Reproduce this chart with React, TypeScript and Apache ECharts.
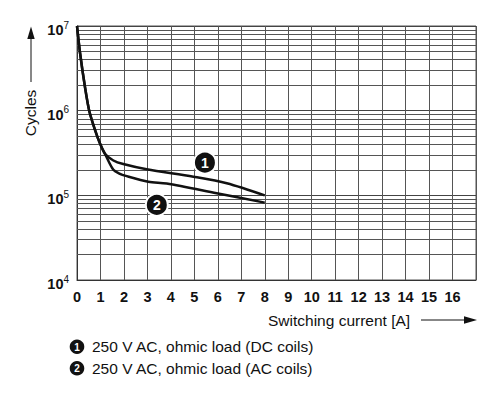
import React, { useEffect, useRef } from "react";
import * as echarts from "echarts";

// ---- data ----
const xTickValues = [0, 1, 2, 3, 4, 5, 6, 7, 8, 9, 10, 11, 12, 13, 14, 15, 16];
const yDecades = [1e4, 1e5, 1e6, 1e7];
const minorMultipliers = [2, 3, 4, 5, 6, 7, 8, 9];

const curveDC: [number, number][] = [
  [0, 1e7], [0.13, 4.8e6], [0.34, 1.9e6], [0.52, 1.0e6], [0.77, 5.9e5],
  [0.98, 4.1e5], [1.19, 3.1e5], [1.55, 2.58e5], [1.97, 2.34e5], [2.97, 2.03e5],
  [4.96, 1.66e5], [6.38, 1.39e5], [8, 1.0e5],
];
const curveAC: [number, number][] = [
  [0, 1e7], [0.13, 4.8e6], [0.34, 1.9e6], [0.52, 1.0e6], [0.77, 5.9e5],
  [0.98, 4.1e5], [1.19, 3.1e5], [1.55, 2.0e5], [1.83, 1.79e5], [2.0, 1.72e5],
  [3.04, 1.45e5], [3.82, 1.38e5], [5.95, 1.06e5], [8, 8.2e4],
];
const badgeNames = ["1", "2"];
const badgePositions: [number, number][] = [[5.45, 2.43e5], [3.4, 7.7e4]];
const legendTexts = [
  "250 V AC, ohmic load (DC coils)",
  "250 V AC, ohmic load (AC coils)",
];
const xAxisTitle = "Switching current [A]";
const yAxisTitle = "Cycles";

const FONT = "'Liberation Sans', Arial, sans-serif";

export default function App() {
  const ref = useRef<HTMLDivElement>(null);
  useEffect(() => {
    if (!ref.current) return;
    const chart = echarts.init(ref.current, null, { renderer: "svg" });
    const minorLines: { yAxis: number }[] = [];
    yDecades.slice(0, -1).forEach((d) =>
      minorMultipliers.forEach((m) => minorLines.push({ yAxis: d * m }))
    );
    const gridColor = "#555";
    chart.setOption({
      animation: false,
      textStyle: { fontFamily: FONT },
      grid: {
        left: 77, top: 26, width: 399, height: 254,
        show: true, borderColor: "#555", borderWidth: 1,
      },
      xAxis: {
        type: "value", min: 0, max: 17, interval: 1,
        axisLine: { show: true, lineStyle: { color: "#333", width: 1 } },
        axisTick: { show: false },
        splitLine: { show: true, lineStyle: { color: gridColor, width: 1 } },
        axisLabel: {
          margin: 9, fontSize: 14.5, fontWeight: "bold", color: "#111", fontFamily: FONT,
          formatter: (v: number) => (xTickValues.includes(v) ? String(v) : ""),
          showMaxLabel: false,
        },
      },
      yAxis: {
        type: "log", logBase: 10, min: yDecades[0], max: yDecades[yDecades.length - 1],
        axisLine: { show: true, lineStyle: { color: "#333", width: 1 } },
        axisTick: { show: false },
        splitLine: { show: true, lineStyle: { color: "#444", width: 1 } },
        axisLabel: {
          margin: 8,
          padding: [8, 0, 0, 0],
          formatter: (v: number) => `{b|10}{s|${Math.round(Math.log10(v))}}`,
          rich: {
            b: { fontSize: 14.5, fontWeight: "bold", color: "#111", lineHeight: 20, fontFamily: FONT },
            s: { fontSize: 10, color: "#111", lineHeight: 8, verticalAlign: "top", fontFamily: FONT },
          },
        },
      },
      series: [
        {
          type: "line", data: [], silent: true,
          markLine: {
            z: 1, silent: true, symbol: ["none", "none"],
            label: { show: false },
            lineStyle: { color: gridColor, width: 1, type: "solid" },
            emphasis: { disabled: true },
            data: minorLines,
          },
        },
        {
          type: "line", data: curveDC, smooth: 0.3, symbol: "none", z: 3,
          lineStyle: { color: "#111", width: 2.5 },
        },
        {
          type: "line", data: curveAC, smooth: 0.3, symbol: "none", z: 3,
          lineStyle: { color: "#111", width: 2.5 },
        },
        {
          type: "scatter", z: 5, symbol: "circle", symbolSize: 22,
          itemStyle: { color: "#111", borderColor: "#fff", borderWidth: 2, opacity: 1 },
          label: {
            show: true, position: "inside", formatter: "{b}", color: "#fff",
            fontWeight: "bold", fontSize: 14, fontFamily: FONT,
          },
          data: badgePositions.map((p, i) => ({ name: badgeNames[i], value: p })),
        },
      ],
      graphic: [
        // y axis title + arrow
        {
          type: "text", x: 30, y: 113, rotation: Math.PI / 2,
          style: {
            text: yAxisTitle, fontSize: 15.5, fontFamily: FONT, fill: "#111",
            align: "center", verticalAlign: "middle",
          },
        },
        { type: "line", shape: { x1: 31, y1: 38, x2: 31, y2: 82 }, style: { stroke: "#111", lineWidth: 1 } },
        { type: "polygon", shape: { points: [[31, 26.5], [27.3, 39], [34.7, 39]] }, style: { fill: "#111" } },
        // x axis title + arrow
        {
          type: "text", x: 268, y: 320,
          style: {
            text: xAxisTitle, fontSize: 15.5, fontFamily: FONT, fill: "#111",
            align: "left", verticalAlign: "middle",
          },
        },
        { type: "line", shape: { x1: 421, y1: 320, x2: 466, y2: 320 }, style: { stroke: "#111", lineWidth: 1 } },
        { type: "polygon", shape: { points: [[477, 320], [464, 316.3], [464, 323.7]] }, style: { fill: "#111" } },
        // legend
        ...legendTexts.flatMap((t, i) => {
          const cy = 346.7 + i * 21.6;
          return [
            { type: "circle", shape: { cx: 77, cy, r: 7.3 }, style: { fill: "#111" } },
            {
              type: "text", x: 77, y: cy + 0.5,
              style: {
                text: badgeNames[i], fontSize: 10, fontWeight: "bold", fill: "#fff",
                fontFamily: FONT, align: "center", verticalAlign: "middle",
              },
            },
            {
              type: "text", x: 92, y: cy,
              style: {
                text: t, fontSize: 15.5, fontFamily: FONT, fill: "#111",
                align: "left", verticalAlign: "middle",
              },
            },
          ];
        }),
      ],
    });
    return () => chart.dispose();
  }, []);
  return (
    <div
      ref={ref}
      style={{ position: "fixed", left: 0, top: 0, width: 500, height: 395, background: "#fff" }}
    />
  );
}
